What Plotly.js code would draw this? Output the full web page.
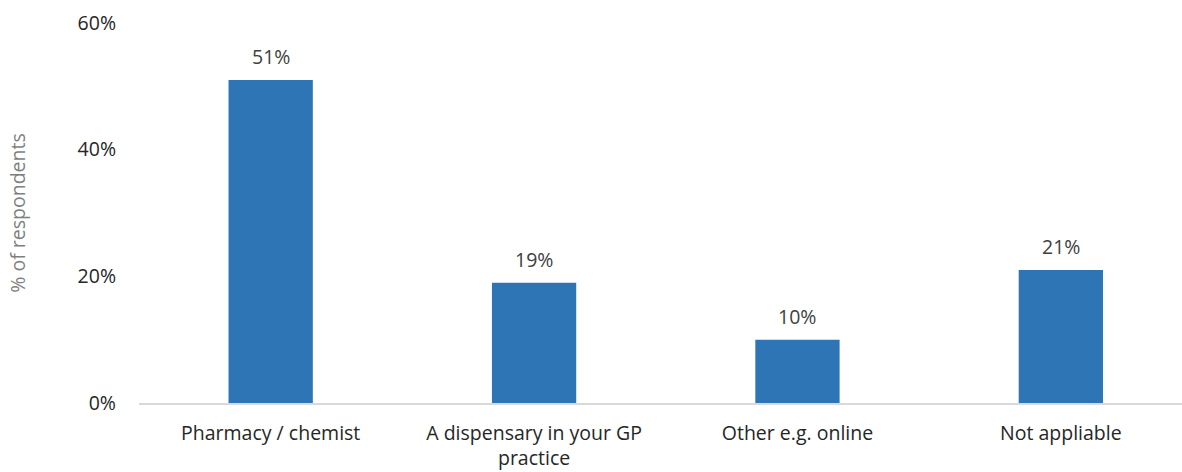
<!DOCTYPE html>
<html><head><meta charset="utf-8">
<script src="https://cdn.plot.ly/plotly-3.0.1.min.js"></script>
<style>html,body{margin:0;padding:0;background:#fff;}#chart{width:1182px;height:472px;}</style>
</head><body><div id="chart"></div>
<script>
const categories = ["Pharmacy / chemist", "A dispensary in your GP<br>practice", "Other e.g. online", "Not appliable"];
const values = [0.51, 0.19, 0.10, 0.21];
const valueLabels = ["51%", "19%", "10%", "21%"];
const yTicks = [0, 0.2, 0.4, 0.6];
const yTickLabels = ["0%", "20%", "40%", "60%"];

const font = "'Open Sans', sans-serif";
const fs = 19.5;
Plotly.newPlot("chart", [{
  type: "bar",
  x: categories,
  y: values,
  marker: {color: "#2E75B6"},
  width: 0.32,
  hoverinfo: "none"
}], {
  width: 1182, height: 472,
  margin: {l: 139, r: 0, t: 23, b: 69},
  paper_bgcolor: "#fff", plot_bgcolor: "#fff",
  showlegend: false,
  font: {family: font, size: fs, color: "#262626"},
  annotations: categories.map((c, i) => ({
    x: c, y: values[i], text: valueLabels[i],
    xref: "x", yref: "y", showarrow: false,
    yanchor: "bottom", yshift: 8,
    font: {family: font, size: fs, color: "#404040"}
  })),
  xaxis: {
    type: "category",
    range: [-0.5, 3.46],
    showline: true, linecolor: "#d9d9d9", linewidth: 1.5,
    showgrid: false, ticks: "", zeroline: false,
    ticklabelstandoff: 12,
    tickfont: {family: font, size: fs, color: "#262626"}
  },
  yaxis: {
    range: [0, 0.6],
    tickvals: yTicks, ticktext: yTickLabels,
    showgrid: false, zeroline: false, showline: false, ticks: "",
    ticklabelstandoff: 22,
    tickfont: {family: font, size: fs, color: "#262626"},
    title: {text: "% of respondents", font: {family: font, size: 19.5, color: "#7f7f7f"}, standoff: 46}
  }
}, {staticPlot: true});
</script></body></html>
